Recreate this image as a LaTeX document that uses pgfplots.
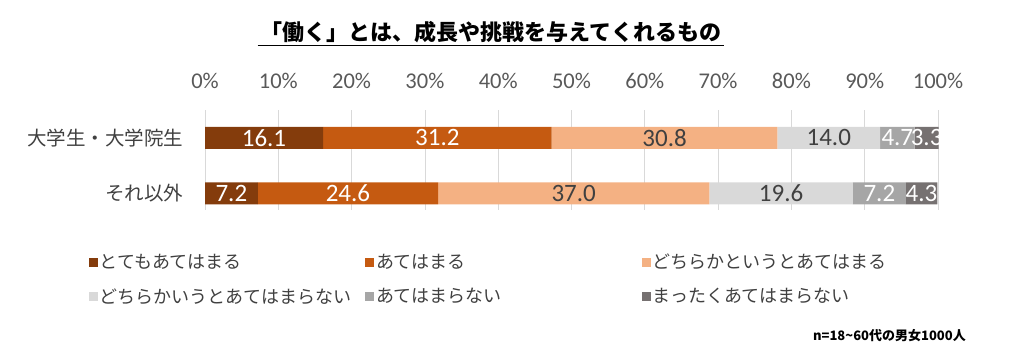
\documentclass[border=0pt]{standalone}
\usepackage{pgfplots}
\pgfplotsset{compat=1.18}
\usepackage{fontspec}
\setmainfont{Carlito}
\newfontfamily\cjk{Noto Sans CJK JP}
\definecolor{c1}{HTML}{843C0C}
\definecolor{c2}{HTML}{C55A11}
\definecolor{c3}{HTML}{F4B183}
\definecolor{c4}{HTML}{D9D9D9}
\definecolor{c5}{HTML}{A6A6A6}
\definecolor{c6}{HTML}{767171}
\definecolor{txt}{HTML}{404040}
\definecolor{tick}{HTML}{595959}
\begin{document}
\begin{tikzpicture}
\path[use as bounding box] (0pt,0pt) rectangle (1016pt,360pt);
\begin{axis}[
  at={(205pt,150pt)}, anchor=south west,
  scale only axis, width=733pt, height=100pt,
  xbar stacked, bar width=22pt,
  xmin=0, xmax=100, ymin=-0.5, ymax=1.3, y dir=reverse,
  clip=false,
  /pgf/number format/assume math mode=true,
  ytick={0,1}, yticklabels={大学生・大学院生,それ以外},
  yticklabel style={font=\cjk\fontsize{19.5}{20}\selectfont, text=txt, xshift=-18pt},
  xtick={0,10,...,100},
  xticklabel={\pgfmathprintnumber[assume math mode=true]{\tick}\%},
  xticklabel pos=upper,
  xticklabel style={font=\fontsize{22.5}{24}\selectfont, text=tick, yshift=18pt},
  major tick length=0pt,
  axis line style={draw=none},
  xmajorgrids, grid style={draw=c4, line width=0.8pt},
  point meta=rawx,
  nodes near coords={\pgfmathprintnumber[fixed,zerofill,precision=1,assume math mode=true]{\pgfplotspointmeta}},
  every node near coord/.append style={font=\fontsize{25}{25}\selectfont, inner sep=0pt},
  legend columns=3,
  legend cell align=left,
  legend style={at={(-0.163,-0.40)}, anchor=north west, draw=none, fill=none,
    font=\cjk\fontsize{18}{20}\selectfont, text=txt, row sep=14pt,
    /tikz/every even column/.append style={column sep=5.5pt}},
  legend image code/.code={\fill[#1] (0pt,-4.5pt) rectangle (9pt,4.5pt);},
]
\addplot[fill=c1, draw=none, every node near coord/.append style={text=white}] coordinates {(16.1,0) (7.2,1)};
\addplot[fill=c2, draw=none, every node near coord/.append style={text=white}] coordinates {(31.2,0) (24.6,1)};
\addplot[fill=c3, draw=none, every node near coord/.append style={text=txt}] coordinates {(30.8,0) (37.0,1)};
\addplot[fill=c4, draw=none, every node near coord/.append style={text=txt}] coordinates {(14.0,0) (19.6,1)};
\addplot[fill=c5, draw=none, every node near coord/.append style={text=white}] coordinates {(4.7,0) (7.2,1)};
\addplot[fill=c6, draw=none, every node near coord/.append style={text=white}] coordinates {(3.3,0) (4.3,1)};
\addlegendentry{\makebox[258pt][l]{とてもあてはまる}}
\addlegendentry{\makebox[258pt][l]{あてはまる}}
\addlegendentry{\makebox[258pt][l]{どちらかというとあてはまる}}
\addlegendentry{\makebox[258pt][l]{どちらかいうとあてはまらない}}
\addlegendentry{\makebox[258pt][l]{あてはまらない}}
\addlegendentry{\makebox[258pt][l]{まったくあてはまらない}}
\end{axis}
\node[font=\cjk\bfseries\fontsize{22}{24}\selectfont, text=black, inner sep=0pt] (t) at (491pt,328pt) {「働く」とは、成長や挑戦を与えてくれるもの};
\draw[black, line width=1pt] (t.south west)++(-3pt,-2pt) -- ([xshift=3pt,yshift=-2pt]t.south east);
\node[font=\cjk\bfseries\fontsize{13}{14}\selectfont, anchor=east, inner sep=0pt] at (966pt,24pt) {n=18\textasciitilde60代の男女1000人};
\end{tikzpicture}
\end{document}
